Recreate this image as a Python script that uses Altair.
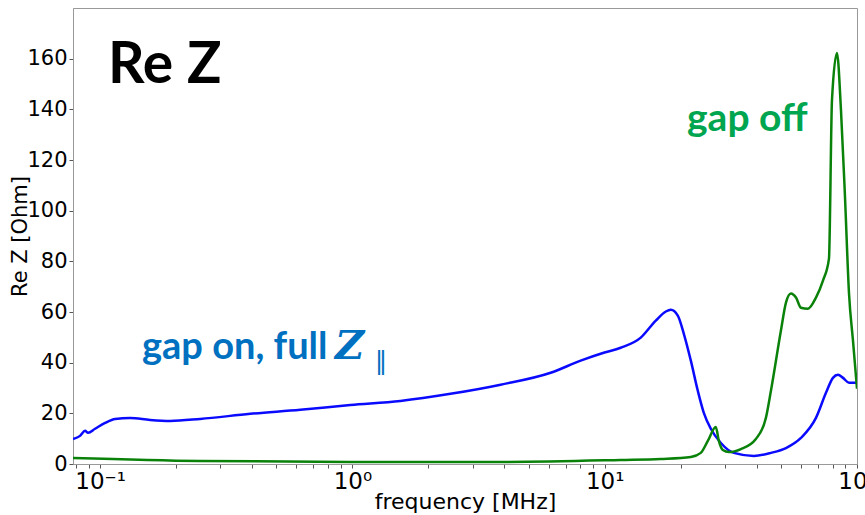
import altair as alt
import pandas as pd

# gap on (blue)
on_f = [0.0781, 0.0833, 0.0872, 0.0896, 0.0955, 0.1047, 0.1147, 0.1315, 0.1579, 0.1896,
        0.2493, 0.3937, 0.6218, 0.982, 1.550, 2.448, 3.867, 6.107, 8.03, 9.91,
        11.57, 13.90, 15.94, 17.47, 18.28, 19.49, 20.59, 21.95, 23.39, 24.71,
        26.34, 28.87, 32.50, 39.02, 45.59, 52.29, 59.95, 68.76, 75.34, 80.30,
        84.07, 87.99, 92.97, 100.0]
on_v = [9.9, 11.1, 13.1, 12.3, 13.9, 16.2, 17.8, 18.2, 17.4, 17.0,
        17.8, 19.8, 21.4, 23.3, 24.9, 27.7, 31.3, 36.0, 40.8, 43.9,
        45.9, 49.9, 56.6, 60.2, 60.9, 58.6, 51.4, 40.8, 28.9, 20.2,
        13.9, 8.3, 4.4, 3.2, 4.4, 6.3, 10.3, 18.2, 28.1, 34.0,
        35.2, 34.0, 32.1, 32.1]

# gap off (green)
off_f = [0.0781, 0.2493, 0.982, 3.867, 11.57, 16.68, 21.95, 24.04, 25.63, 27.57,
         28.34, 29.40, 31.05, 34.65, 39.73, 43.54, 45.59, 49.93, 52.29, 54.72,
         57.29, 59.95, 63.92, 68.76, 73.31, 77.43, 79.58, 83.27, 86.4, 89.63,
         92.97, 96.40, 100.0]
off_v = [2.4, 1.2, 0.8, 0.8, 1.6, 2.0, 2.8, 4.4, 9.1, 14.6,
         9.1, 5.5, 4.7, 5.9, 9.9, 18.2, 28.9, 52.6, 63.7, 67.3,
         65.7, 61.7, 61.3, 65.7, 72.4, 81.1, 143.6, 162.2, 139.7, 105.3,
         67.3, 48.7, 29.7]

x_ticks = [0.1, 1, 10, 100]
y_ticks = [0, 20, 40, 60, 80, 100, 120, 140, 160]
minor = [0.08, 0.09] + [m * d for d in (0.1, 1, 10) for m in range(2, 10)]

df = pd.concat([
    pd.DataFrame({"f": on_f, "v": on_v, "s": "gap on"}),
    pd.DataFrame({"f": off_f, "v": off_v, "s": "gap off"}),
])

FONT = "DejaVu Sans"

label_expr = ("datum.value == 0.1 ? '10⁻¹' : datum.value == 1 ? '10⁰' : "
              "datum.value == 10 ? '10¹' : datum.value == 100 ? '10²' : ''")

lines = alt.Chart(df).mark_line(strokeWidth=2.5, clip=True, interpolate="monotone").encode(
    x=alt.X("f:Q", scale=alt.Scale(type="log", domain=[0.0781, 100], nice=False),
            axis=alt.Axis(title="frequency [MHz]", values=x_ticks + minor,
                          labelExpr=label_expr, grid=False, tickSize=4,
                          labelFontSize=23, titleFontSize=22, labelPadding=2,
                          titlePadding=-2, labelFlush=False)),
    y=alt.Y("v:Q", scale=alt.Scale(domain=[0, 180], nice=False),
            axis=alt.Axis(title="Re Z [Ohm]", values=y_ticks, grid=False, tickSize=4,
                          labelFontSize=21, titleFontSize=21,
                          titleX=-53, titleY=228, titleBaseline="middle",
                          titleAlign="center", titleAngle=270)),
    color=alt.Color("s:N", scale=alt.Scale(domain=["gap on", "gap off"],
                                           range=["#0a0aff", "#0a820a"]), legend=None),
    detail="s:N",
)

title = alt.Chart().mark_text(text="Re Z", font="Lato", fontWeight="bold", fontSize=57,
                              align="left", baseline="alphabetic", color="black").encode(
    x=alt.value(35), y=alt.value(75))
off_lbl = alt.Chart().mark_text(text="gap off", font="Lato", fontWeight="bold", fontSize=39,
                                align="left", baseline="alphabetic", color="#00a550").encode(
    x=alt.value(614), y=alt.value(123))
on_lbl = alt.Chart().mark_text(text="gap on, full", font="Lato", fontWeight="bold", fontSize=38,
                               align="left", baseline="alphabetic", color="#0070c0").encode(
    x=alt.value(69), y=alt.value(351))
z_lbl = alt.Chart().mark_text(text="Z", font="DejaVu Serif", fontWeight="bold", fontStyle="italic",
                              fontSize=40, align="left", baseline="alphabetic",
                              color="#0070c0").encode(x=alt.value(262), y=alt.value(351))
par_lbl = alt.Chart().mark_text(text="‖", font="DejaVu Sans", fontSize=24, align="left",
                                baseline="alphabetic", color="#0070c0").encode(
    x=alt.value(302), y=alt.value(361))

chart = alt.layer(lines, title, off_lbl, on_lbl, z_lbl, par_lbl).properties(
    width=784, height=456,
    padding={"left": 73, "top": 8, "right": 8, "bottom": 51},
    autosize="none",
).configure_view(stroke="#999999", strokeWidth=1).configure_axis(
    labelFont=FONT, titleFont=FONT, labelColor="black", titleColor="black",
    titleFontWeight="normal", domainColor="#999999", tickColor="#555555",
)

chart.save("out.html", embed_options={"renderer": "svg", "actions": False})
